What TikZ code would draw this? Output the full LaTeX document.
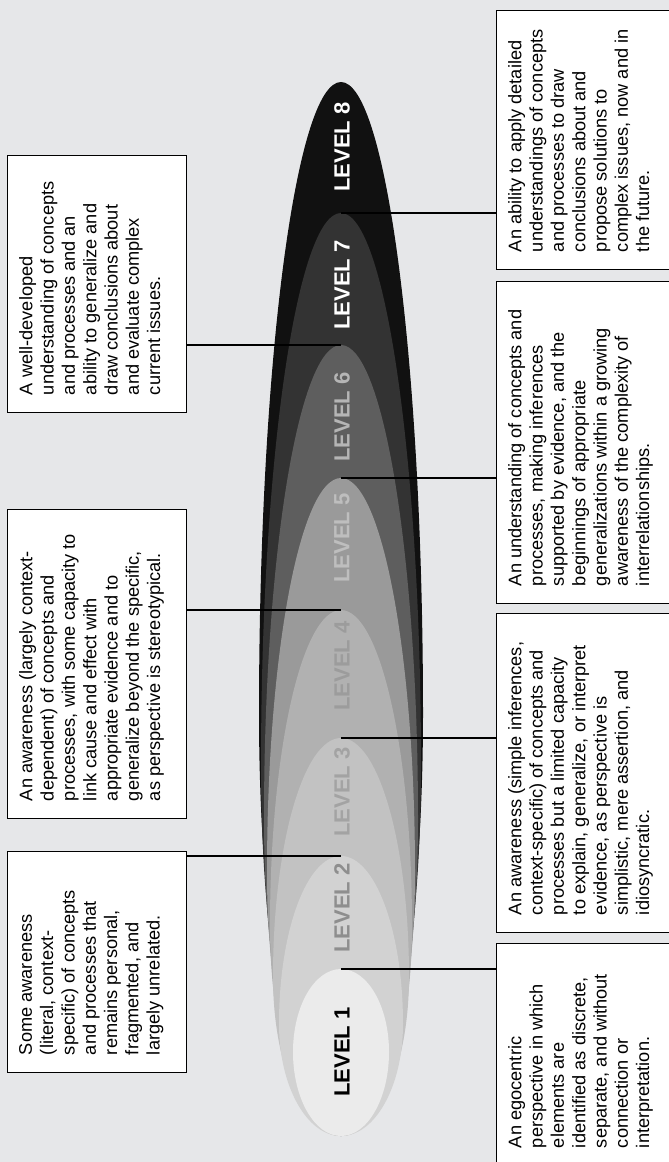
\documentclass[tikz,border=0pt]{standalone}
\usepackage{fontspec}
\setmainfont{Liberation Sans}
\usepackage{xcolor}
\usetikzlibrary{calc}
\definecolor{bgcol}{HTML}{E6E7E9}
\definecolor{shade8}{HTML}{111111}
\definecolor{shade7}{HTML}{333333}
\definecolor{shade6}{HTML}{5E5E5E}
\definecolor{shade5}{HTML}{9A9A9A}
\definecolor{shade4}{HTML}{B1B1B1}
\definecolor{shade3}{HTML}{C2C2C2}
\definecolor{shade2}{HTML}{D2D2D2}
\definecolor{shade1}{HTML}{EBEBEB}
\definecolor{ink6}{HTML}{B5B5B5}
\definecolor{ink5}{HTML}{BEBEBE}
\definecolor{ink4}{HTML}{9C9C9C}
\definecolor{ink3}{HTML}{A3A3A3}
\definecolor{ink2}{HTML}{8E8E8E}

\begin{document}
\begin{tikzpicture}[x=1pt, y=-1pt,
    note/.style={draw, line width=1.2pt, fill=white, anchor=north west, inner sep=0pt},
    notetext/.style={rotate=90, anchor=north west, align=left, inner sep=0pt,
      font=\fontsize{18.2}{21.3}\selectfont},
    lvl/.style={rotate=90, inner sep=0pt, font=\fontsize{22}{22}\selectfont\bfseries},
    link/.style={line width=2.5pt, black}]
    \useasboundingbox (0,0) rectangle (669,1162);
    \clip (0,0) rectangle (669,1162);
    \fill[bgcol] (0,0) rectangle (669,1162);

    \foreach \t/\c/\r/\col in {82/714/82/shade8, 213/767/80/shade7, 345/820/77/shade6,
        478/873/74/shade5, 610/926/71/shade4, 738/977/68/shade3, 856/1024/62/shade2,
        969/1052/48/shade1}
      \fill[\col] (341-\r,\c) arc[start angle=180, end angle=360, x radius=\r, y radius=\c-\t]
        arc[start angle=0, end angle=180, x radius=\r, y radius=1136-\c] -- cycle;

    \path (341,213) coordinate(tip7)
        (341,345) coordinate(tip6)
        (341,478) coordinate(tip5)
        (341,610) coordinate(tip4)
        (341,738) coordinate(tip3)
        (341,856) coordinate(tip2)
        (341,969) coordinate(tip1);

    \foreach \n/\y/\col in {8/147/white, 7/285/white, 6/417/ink6, 5/538/ink5,
        4/666/ink4, 3/792/ink3, 2/908/ink2, 1/1052/black}
      \node[lvl, text=\col] (lv\n) at (342,\y) {LEVEL \n};

    \path (496,10) node(note7)[note, minimum width=210pt, minimum height=259pt]{}
        (7,155) node(note6)[note, minimum width=179pt, minimum height=257pt]{}
        (496,281) node(note5)[note, minimum width=210pt, minimum height=322pt]{}
        (7,509) node(note4)[note, minimum width=179pt, minimum height=309pt]{}
        (496,613) node(note3)[note, minimum width=210pt, minimum height=319pt]{}
        (7,851) node(note2)[note, minimum width=179pt, minimum height=221pt]{}
        (496,943) node(note1)[note, minimum width=210pt, minimum height=222pt]{};

    \path ($(note7.south west)+(12,-18)$) node[notetext]{An ability to apply detailed\\
        understandings of concepts\\ and processes to draw\\ conclusions about and\\
        propose solutions to\\ complex issues, now and in\\ the future.}
      ($(note6.south west)+(12,-18)$) node[notetext]{A well-developed\\
        understanding of concepts\\ and processes and an\\ ability to generalize and\\
        draw conclusions about\\ and evaluate complex\\ current issues.}
      ($(note5.south west)+(12,-18)$) node[notetext]{An understanding of concepts and\\
        processes, making inferences\\ supported by evidence, and the\\
        beginnings of appropriate\\ generalizations within a growing\\
        awareness of the complexity of\\ interrelationships.}
      ($(note4.south west)+(12,-18)$) node[notetext]{An awareness (largely context-\\
        dependent) of concepts and\\ processes, with some capacity to\\
        link cause and effect with\\ appropriate evidence and to\\
        generalize beyond the specific,\\ as perspective is stereotypical.}
      ($(note3.south west)+(12,-18)$) node[notetext]{An awareness (simple inferences,\\
        context-specific) of concepts and\\ processes but a limited capacity\\
        to explain, generalize, or interpret\\ evidence, as perspective is\\
        simplistic, mere assertion, and\\ idiosyncratic.}
      ($(note2.south west)+(12,-18)$) node[notetext]{Some awareness\\
        (literal, context-\\ specific) of concepts\\ and processes that\\
        remains personal,\\ fragmented, and\\ largely unrelated.}
      ($(note1.south west)+(12,-18)$) node[notetext]{An egocentric\\
        perspective in which\\ elements are\\ identified as discrete,\\
        separate, and without\\ connection or\\ interpretation.};

    \draw[link] (tip7) -- (tip7 -| note7.west);
    \draw[link] (tip6) -- (tip6 -| note6.east);
    \draw[link] (tip5) -- (tip5 -| note5.west);
    \draw[link] (tip4) -- (tip4 -| note4.east);
    \draw[link] (tip3) -- (tip3 -| note3.west);
    \draw[link] (tip2) -- (tip2 -| note2.east);
    \draw[link] (tip1) -- (tip1 -| note1.west);
\end{tikzpicture}
\end{document}
